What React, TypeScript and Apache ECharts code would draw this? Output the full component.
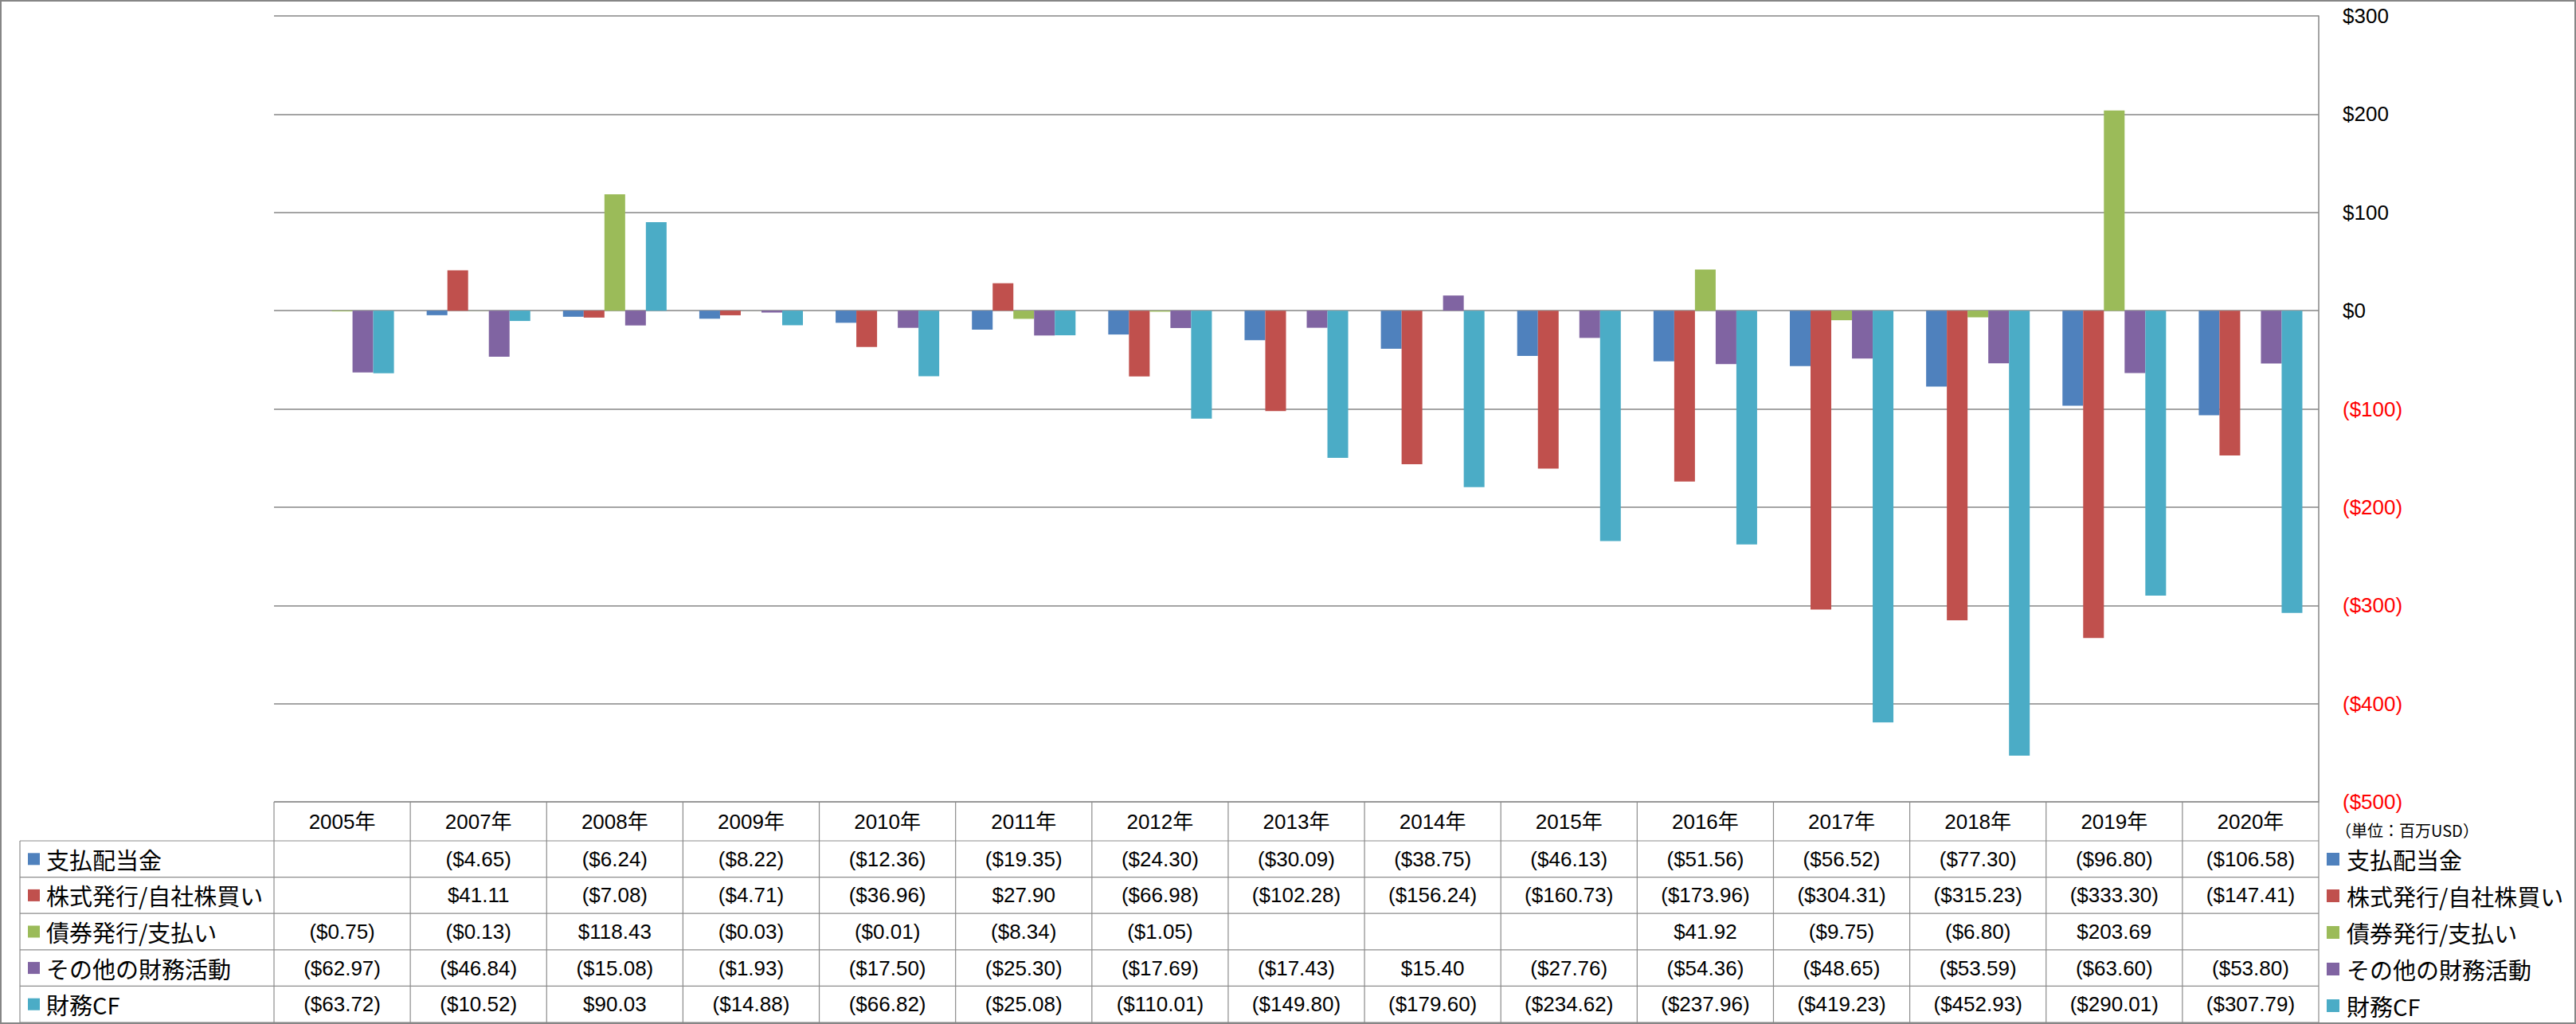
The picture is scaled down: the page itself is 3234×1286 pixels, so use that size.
import React, { useEffect, useRef } from 'react';
import * as echarts from 'echarts';

// ---- data ----
const years = ['2005年', '2007年', '2008年', '2009年', '2010年', '2011年', '2012年', '2013年', '2014年', '2015年', '2016年', '2017年', '2018年', '2019年', '2020年'];
const seriesNames = ['支払配当金', '株式発行/自社株買い', '債券発行/支払い', 'その他の財務活動', '財務CF'];
const dividends = [null, -4.65, -6.24, -8.22, -12.36, -19.35, -24.3, -30.09, -38.75, -46.13, -51.56, -56.52, -77.3, -96.8, -106.58];
const equity = [null, 41.11, -7.08, -4.71, -36.96, 27.9, -66.98, -102.28, -156.24, -160.73, -173.96, -304.31, -315.23, -333.3, -147.41];
const debt = [-0.75, -0.13, 118.43, -0.03, -0.01, -8.34, -1.05, null, null, null, 41.92, -9.75, -6.8, 203.69, null];
const otherFin = [-62.97, -46.84, -15.08, -1.93, -17.5, -25.3, -17.69, -17.43, 15.4, -27.76, -54.36, -48.65, -53.59, -63.6, -53.8];
const financingCF = [-63.72, -10.52, 90.03, -14.88, -66.82, -25.08, -110.01, -149.8, -179.6, -234.62, -237.96, -419.23, -452.93, -290.01, -307.79];
const seriesValues = [dividends, equity, debt, otherFin, financingCF];
const seriesColors = ['#4F81BD', '#C0504D', '#9BBB59', '#8064A2', '#4BACC6'];
const yMin = -500;
const yMax = 300;
const yInterval = 100;
const unitLabel = '（単位：百万USD）';

// ---- layout / style ----
const W = 3234;
const H = 1286;
const LATIN = "'Liberation Sans', 'Noto Sans CJK JP', sans-serif";
const CJK = "'Noto Sans CJK JP', 'Liberation Sans', sans-serif";
const GRID_COLOR = '#868686';
const HEADER_H = 49;
const ROW_H = 45.6;
const LABEL_LEFT = 25;

const fmtMoney = (v: number | null) => {
  if (v === null || v === undefined) return '';
  const s = Math.abs(v).toFixed(2);
  return v < 0 ? `($${s})` : `$${s}`;
};

export default function App() {
  const ref = useRef<HTMLDivElement>(null);

  useEffect(() => {
    if (!ref.current) return;
    const chart = echarts.init(ref.current, undefined, { renderer: 'svg' });
    chart.setOption({
      animation: false,
      backgroundColor: '#ffffff',
      title: {
        text: unitLabel,
        left: 2932,
        top: 1032,
        padding: 0,
        textStyle: { fontSize: 20, fontWeight: 'normal', color: '#000', fontFamily: CJK, lineHeight: 20 },
      },
      legend: {
        data: seriesNames,
        orient: 'vertical',
        left: 2921,
        top: 1064,
        padding: 0,
        itemWidth: 16,
        itemHeight: 16,
        itemGap: 16,
        icon: 'rect',
        selectedMode: false,
        textStyle: { fontSize: 29, lineHeight: 30, fontFamily: CJK, color: '#000', padding: [0, 0, 0, 4] },
      },
      grid: { left: 344, right: W - 2911, top: 20, bottom: H - 1007, containLabel: false },
      xAxis: {
        type: 'category',
        data: years,
        axisLine: { show: false },
        axisTick: { show: false },
        axisLabel: { show: false },
        splitLine: { show: false },
      },
      yAxis: {
        type: 'value',
        position: 'right',
        min: yMin,
        max: yMax,
        interval: yInterval,
        axisLine: { show: true, lineStyle: { color: GRID_COLOR, width: 1.5 } },
        axisTick: { show: false },
        splitLine: { show: true, lineStyle: { color: GRID_COLOR, width: 1.5 } },
        axisLabel: {
          margin: 30,
          fontSize: 26,
          fontFamily: LATIN,
          formatter: (v: number) => (v < 0 ? `($${-v})` : `$${v}`),
          color: (v: any) => (Number(v) < 0 ? '#FF0000' : '#000000'),
        },
      },
      series: seriesNames.map((name, i) => ({
        name,
        type: 'bar',
        data: seriesValues[i],
        barGap: '0%',
        barCategoryGap: '24%',
        itemStyle: { color: seriesColors[i] },
      })),
    });

    // ---- data table drawn from the axis scale ----
    const c0 = chart.convertToPixel({ xAxisIndex: 0 }, 0) as number;
    const c1 = chart.convertToPixel({ xAxisIndex: 0 }, 1) as number;
    const band = c1 - c0;
    const tLeft = c0 - band / 2;
    const tRight = (chart.convertToPixel({ xAxisIndex: 0 }, years.length - 1) as number) + band / 2;
    const tTop = chart.convertToPixel({ yAxisIndex: 0 }, yMin) as number;
    const rowTop = tTop + HEADER_H;
    const tBottom = rowTop + ROW_H * seriesNames.length;

    const lineStyle = { stroke: '#8c8c8c', lineWidth: 1.2 };
    const els: any[] = [];
    // outer border
    els.push({ type: 'rect', silent: true, shape: { x: 1, y: 1, width: W - 2, height: H - 2 }, style: { fill: 'none', stroke: '#868686', lineWidth: 2 }, z: 10 });
    // header top
    els.push({ type: 'line', silent: true, shape: { x1: tLeft, y1: tTop, x2: tRight, y2: tTop }, style: lineStyle });
    // row lines
    for (let r = 0; r <= seriesNames.length; r++) {
      const y = rowTop + r * ROW_H;
      els.push({ type: 'line', silent: true, shape: { x1: LABEL_LEFT, y1: y, x2: tRight, y2: y }, style: lineStyle });
    }
    // left label column border
    els.push({ type: 'line', silent: true, shape: { x1: LABEL_LEFT, y1: rowTop, x2: LABEL_LEFT, y2: tBottom }, style: lineStyle });
    // column lines
    for (let k = 0; k <= years.length; k++) {
      const x = tLeft + k * band;
      els.push({ type: 'line', silent: true, shape: { x1: x, y1: tTop, x2: x, y2: k === years.length ? H : tBottom }, style: lineStyle });
    }
    // header texts
    years.forEach((yr, k) => {
      els.push({
        type: 'text', silent: true,
        x: tLeft + (k + 0.5) * band, y: tTop + HEADER_H / 2,
        style: { text: yr, fill: '#000', fontSize: 26, fontFamily: LATIN, align: 'center', verticalAlign: 'middle', textAlign: 'center', textVerticalAlign: 'middle' },
      });
    });
    // rows
    seriesNames.forEach((name, r) => {
      const cy = rowTop + (r + 0.5) * ROW_H;
      els.push({ type: 'rect', silent: true, shape: { x: 35, y: cy - 7.5, width: 15, height: 15 }, style: { fill: seriesColors[r] } });
      els.push({
        type: 'text', silent: true, x: 58, y: cy,
        style: { text: name, fill: '#000', fontSize: 29, fontFamily: CJK, align: 'left', verticalAlign: 'middle', textAlign: 'left', textVerticalAlign: 'middle' },
      });
      seriesValues[r].forEach((v, k) => {
        const t = fmtMoney(v as number | null);
        if (!t) return;
        els.push({
          type: 'text', silent: true,
          x: tLeft + (k + 0.5) * band, y: cy,
          style: { text: t, fill: '#000', fontSize: 26, fontFamily: LATIN, align: 'center', verticalAlign: 'middle', textAlign: 'center', textVerticalAlign: 'middle' },
        });
      });
    });
    chart.setOption({ graphic: { elements: els } });

    return () => chart.dispose();
  }, []);

  return <div ref={ref} style={{ position: 'absolute', left: 0, top: 0, width: W, height: H }} />;
}
